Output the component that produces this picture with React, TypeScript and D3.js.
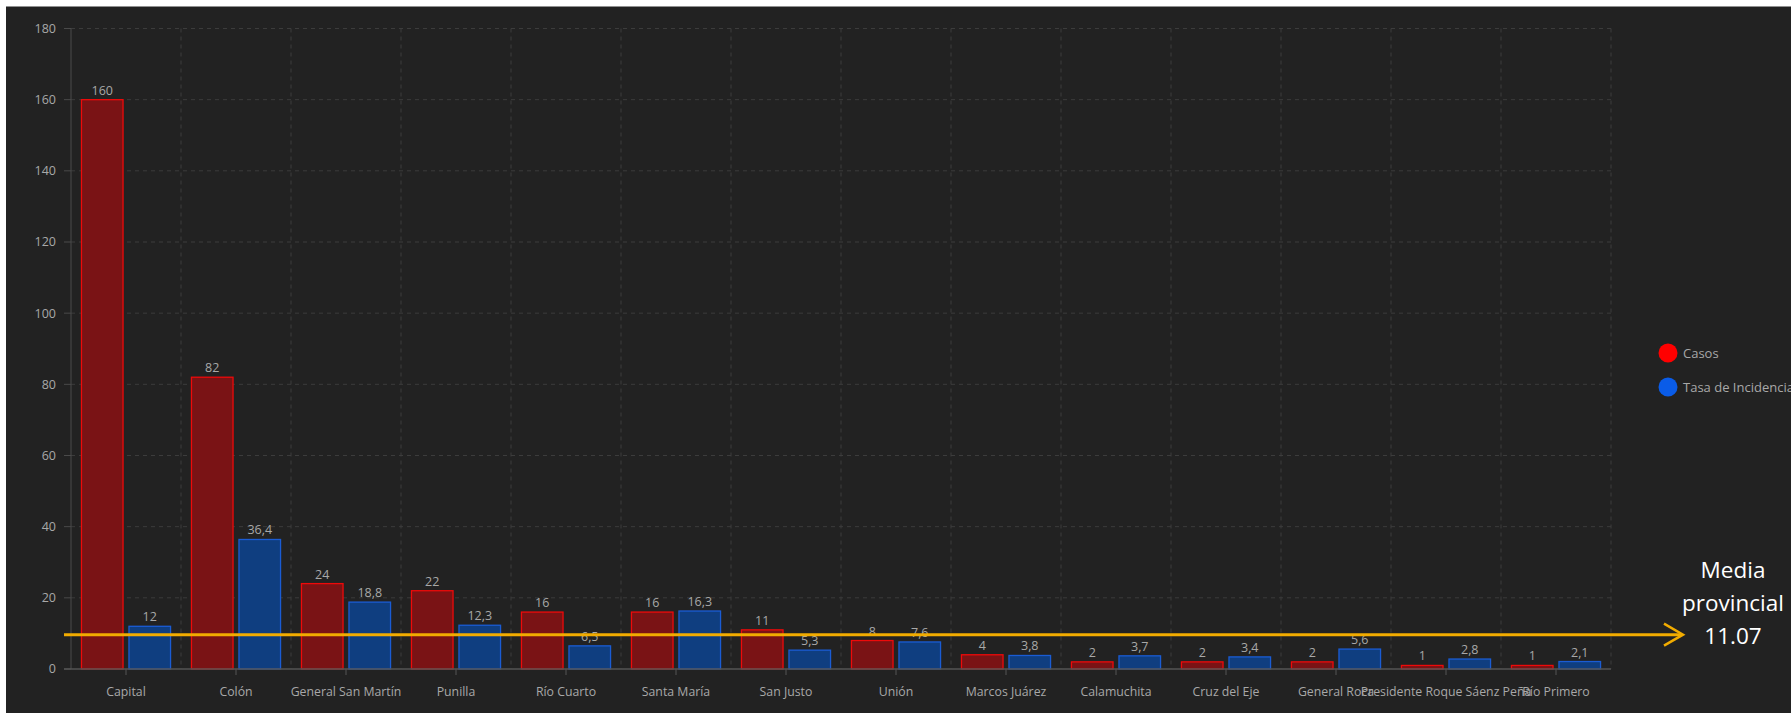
import React, { useEffect } from "react";
import * as d3 from "d3";

const categories = [
  "Capital", "Colón", "General San Martín", "Punilla", "Río Cuarto", "Santa María",
  "San Justo", "Unión", "Marcos Juárez", "Calamuchita", "Cruz del Eje", "General Roca",
  "Presidente Roque Sáenz Peña", "Río Primero",
];
const casos = [160, 82, 24, 22, 16, 16, 11, 8, 4, 2, 2, 2, 1, 1];
const tasa = [12, 36.4, 18.8, 12.3, 6.5, 16.3, 5.3, 7.6, 3.8, 3.7, 3.4, 5.6, 2.8, 2.1];
const yTicks = [0, 20, 40, 60, 80, 100, 120, 140, 160, 180];
const seriesNames = ["Casos", "Tasa de Incidencia"];
const mediaLabel = ["Media", "provincial", "11.07"];
const mediaLineValue = 9.65;

const W = 1791;
const H = 713;
const left = 71;
const right = 1611;
const top = 28.5;
const bottom = 669;

const fmt = (v: number) => String(v).replace(".", ",");

export default function App() {
  useEffect(() => {
    document.body.style.margin = "0";
    document.body.style.background = "#ffffff";
  }, []);

  const x = d3.scaleBand<string>().domain(categories).range([left, right]).padding(0);
  const inner = d3
    .scaleBand<string>()
    .domain(["c", "t"])
    .range([0, x.bandwidth()])
    .paddingInner(0.125)
    .paddingOuter(0.22);
  const y = d3.scaleLinear().domain([0, 180]).range([bottom, top]);

  const font = "'Open Sans', 'Noto Sans', sans-serif";
  const grid = "#3c3c3c";
  const textCol = "#a8a8a8";

  const redFill = "#7a1315";
  const redStroke = "#ee0a0a";
  const blueFill = "#0f3e80";
  const blueStroke = "#1a5cd4";

  const lineY = y(mediaLineValue);
  const arrowTip = 1683;

  return (
    <svg width={W} height={H} style={{ display: "block" }} fontFamily={font}>
      <rect x={0} y={0} width={W} height={H} fill="#ffffff" />
      <rect x={6} y={6.5} width={W - 6} height={H - 6.5} fill="#222222" />

      {/* horizontal grid */}
      {yTicks.slice(1).map((t) => (
        <line key={"h" + t} x1={left} x2={right} y1={y(t)} y2={y(t)} stroke={grid} strokeDasharray="4 4" strokeWidth={1} />
      ))}
      {/* vertical grid */}
      {categories.map((c, i) => (
        <line
          key={"v" + i}
          x1={(x(c) as number) + x.bandwidth()}
          x2={(x(c) as number) + x.bandwidth()}
          y1={top}
          y2={bottom}
          stroke={grid}
          strokeDasharray="4 4"
          strokeWidth={1}
        />
      ))}

      {/* y axis */}
      <line x1={left} x2={left} y1={top} y2={bottom} stroke="#4a4a4a" strokeWidth={1} />
      {yTicks.map((t) => (
        <g key={"yt" + t}>
          <line x1={left - 7} x2={left} y1={y(t)} y2={y(t)} stroke="#4a4a4a" />
          <text x={left - 15} y={y(t)} dy="0.35em" textAnchor="end" fontSize={12.5} fill={textCol}>
            {t}
          </text>
        </g>
      ))}

      {/* bars */}
      {categories.map((c, i) => {
        const bx = x(c) as number;
        const xc = bx + (inner("c") as number);
        const xt = bx + (inner("t") as number);
        const bw = inner.bandwidth();
        return (
          <g key={"b" + i}>
            <rect x={xc} y={y(casos[i])} width={bw} height={bottom - y(casos[i])} fill={redFill} stroke={redStroke} strokeWidth={1.3} />
            <rect x={xt} y={y(tasa[i])} width={bw} height={bottom - y(tasa[i])} fill={blueFill} stroke={blueStroke} strokeWidth={1.3} />
            <text x={xc + bw / 2} y={y(casos[i]) - 5} textAnchor="middle" fontSize={12.5} fill={textCol}>
              {fmt(casos[i])}
            </text>
            <text x={xt + bw / 2} y={y(tasa[i]) - 5} textAnchor="middle" fontSize={12.5} fill={textCol}>
              {fmt(tasa[i])}
            </text>
          </g>
        );
      })}

      {/* x axis */}
      <line x1={left - 7} x2={right} y1={bottom} y2={bottom} stroke="#555555" strokeWidth={1.5} />
      {categories.map((c, i) => {
        const cx = (x(c) as number) + x.bandwidth() / 2;
        return (
          <g key={"xt" + i}>
            <line x1={cx} x2={cx} y1={bottom} y2={bottom + 6} stroke="#555555" />
            <text x={cx} y={bottom + 27} textAnchor="middle" fontSize={12.3} fill={textCol}>
              {c}
            </text>
          </g>
        );
      })}

      {/* legend */}
      {seriesNames.map((s, i) => (
        <g key={"lg" + i} transform={`translate(1668, ${353 + i * 34})`}>
          <circle r={9.5} fill={i === 0 ? "#ff0000" : "#0a5ce8"} />
          <text x={15} dy="0.35em" fontSize={13} fill={textCol}>
            {s}
          </text>
        </g>
      ))}

      {/* media provincial annotation */}
      <line x1={64} x2={arrowTip - 1} y1={lineY} y2={lineY} stroke="#f2ac00" strokeWidth={3} />
      <polyline
        points={`${arrowTip - 19},${lineY - 11} ${arrowTip},${lineY} ${arrowTip - 19},${lineY + 11}`}
        fill="none"
        stroke="#f2ac00"
        strokeWidth={2.5}
      />
      {mediaLabel.map((t, i) => (
        <text key={"m" + i} x={1733} y={570 + i * 33} dy="0.35em" textAnchor="middle" fontSize={22.5} fill="#ffffff">
          {t}
        </text>
      ))}
    </svg>
  );
}
